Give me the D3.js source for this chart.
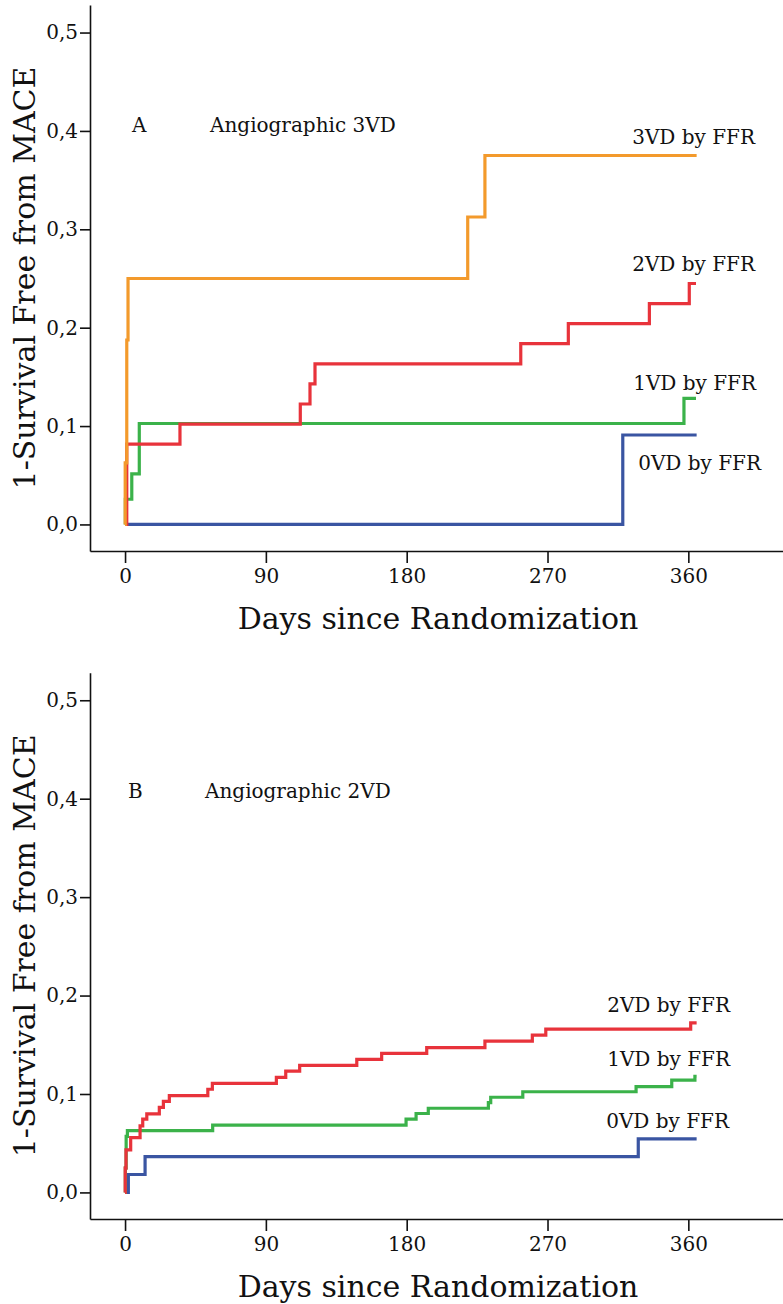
<!DOCTYPE html>
<html>
<head>
<meta charset="utf-8">
<script src="https://cdn.jsdelivr.net/npm/d3@7"></script>
<style>
  html, body { margin: 0; padding: 0; background: #fff; }
  svg text { font-family: "DejaVu Serif", serif; fill: #111; }
</style>
</head>
<body>
<svg id="chart" width="783" height="1304"></svg>
<script>
// ---------- data ----------
const xTicks = [0, 90, 180, 270, 360];
const yTicks = [0, 0.1, 0.2, 0.3, 0.4, 0.5];
const xTickLabels = ["0", "90", "180", "270", "360"];
const yTickLabels = ["0,0", "0,1", "0,2", "0,3", "0,4", "0,5"];
const groupNames = ["0VD by FFR", "1VD by FFR", "2VD by FFR", "3VD by FFR"];
const groupColors = ["#3a55a2", "#3bb24a", "#e8333b", "#f39a2c"];

// Panel A: Angiographic 3VD (cumulative MACE = 1 - survival)
const a0Days = [0, 318.1, 365.3];
const a0Risk = [0, 0.0909, 0.0909];
const a1Days = [0, 0.2, 4.3, 9.1, 357.2, 364.9];
const a1Risk = [0, 0.0256, 0.0513, 0.1026, 0.1282, 0.1282];
const a2Days = [0, 1.1, 35.1, 112.0, 118.2, 121.4, 252.9, 283.3, 335.1, 360.6, 364.9];
const a2Risk = [0, 0.0816, 0.1020, 0.1224, 0.1429, 0.1633, 0.1837, 0.2041, 0.2245, 0.2449, 0.2449];
const a3Days = [0, 0.1, 1.1, 1.9, 219.0, 230.0, 365.3];
const a3Risk = [0, 0.0625, 0.1875, 0.25, 0.3125, 0.375, 0.375];

// Panel B: Angiographic 2VD
const b0Days = [0, 2.1, 12.8, 328.0, 365.3];
const b0Risk = [0, 0.0182, 0.0364, 0.0545, 0.0545];
const b1Days = [0, 0.2, 0.7, 1.5, 56.0, 179.6, 186.0, 193.8, 232.2, 233.7, 254.2, 326.6, 349.4, 364.2, 365.3];
const b1Risk = [0, 0.025, 0.057, 0.0628, 0.0683, 0.0744, 0.0802, 0.0855, 0.0912, 0.0967, 0.1023, 0.1074, 0.114, 0.118, 0.118];
const b2Days = [0, 0.1, 0.6, 3.6, 9.6, 11.3, 13.9, 21.9, 24.5, 28.3, 52.9, 55.8, 96.7, 102.7, 111.6, 148.1, 164.0, 192.8, 230.0, 260.3, 268.9, 361.5, 365.3];
const b2Risk = [0, 0.0247, 0.0433, 0.0557, 0.0676, 0.0744, 0.0797, 0.0865, 0.0926, 0.0983, 0.1048, 0.1108, 0.1169, 0.1233, 0.129, 0.1352, 0.1412, 0.1471, 0.1537, 0.1598, 0.1659, 0.1722, 0.1722];

// ---------- drawing ----------
const svg = d3.select("#chart");
const xDomain = [-22.4, 420.5];
const yDomain = [-0.027, 0.528];

function zip(days, risk) { return days.map((d, i) => [d, risk[i]]); }

function panel(cfg) {
  const x = d3.scaleLinear().domain(xDomain).range([90, 783]);
  const y = d3.scaleLinear().domain(yDomain).range([cfg.bottom, cfg.top]);
  const g = svg.append("g");

  const xAxis = d3.axisBottom(x).tickValues(xTicks)
    .tickFormat((d, i) => xTickLabels[i]).tickSize(12).tickSizeOuter(0).tickPadding(6);
  const gx = g.append("g").attr("transform", `translate(0,${cfg.bottom})`).call(xAxis);
  gx.selectAll("text").attr("font-size", 20).attr("font-family", "DejaVu Serif");

  const yAxis = d3.axisLeft(y).tickValues(yTicks)
    .tickFormat((d, i) => yTickLabels[i]).tickSize(10).tickSizeOuter(0).tickPadding(2);
  const gy = g.append("g").attr("transform", "translate(90,0)").call(yAxis);
  gy.selectAll("text").attr("font-size", 20).attr("font-family", "DejaVu Serif");

  g.selectAll(".domain, .tick line").attr("stroke", "#111").attr("stroke-width", 1.6);

  const line = d3.line().x(d => x(d[0])).y(d => y(d[1])).curve(d3.curveStepAfter);
  cfg.series.forEach((s, i) => {
    g.append("path").datum(zip(s.days, s.risk))
      .attr("fill", "none").attr("stroke", groupColors[s.group])
      .attr("stroke-width", 3.2).attr("stroke-linejoin", "miter").attr("d", line);
  });

  cfg.labels.forEach(l => {
    g.append("text").attr("x", l.x).attr("y", l.y).attr("text-anchor", "end")
      .attr("font-size", 20).text(groupNames[l.group]);
  });

  g.append("text").attr("x", cfg.letterX).attr("y", cfg.titleY).attr("font-size", 20).text(cfg.letter);
  g.append("text").attr("x", cfg.titleX).attr("y", cfg.titleY).attr("font-size", 20).text(cfg.title);

  g.append("text").attr("x", 438).attr("y", cfg.bottom + 78).attr("text-anchor", "middle")
    .attr("font-size", 30).text("Days since Randomization");
  g.append("text").attr("transform", `translate(35,${(cfg.top + cfg.bottom) / 2}) rotate(-90)`)
    .attr("text-anchor", "middle").attr("font-size", 30).text("1-Survival Free from MACE");
}

panel({
  top: 5, bottom: 551,
  letter: "A", letterX: 132, title: "Angiographic 3VD", titleX: 210, titleY: 132,
  series: [
    { group: 0, days: a0Days, risk: a0Risk },
    { group: 1, days: a1Days, risk: a1Risk },
    { group: 2, days: a2Days, risk: a2Risk },
    { group: 3, days: a3Days, risk: a3Risk }
  ],
  labels: [
    { group: 3, x: 755, y: 144 },
    { group: 2, x: 755, y: 271 },
    { group: 1, x: 756, y: 390 },
    { group: 0, x: 761, y: 470 }
  ]
});

panel({
  top: 672.7, bottom: 1219,
  letter: "B", letterX: 128, title: "Angiographic 2VD", titleX: 205, titleY: 798,
  series: [
    { group: 0, days: b0Days, risk: b0Risk },
    { group: 1, days: b1Days, risk: b1Risk },
    { group: 2, days: b2Days, risk: b2Risk }
  ],
  labels: [
    { group: 2, x: 730, y: 1012 },
    { group: 1, x: 730, y: 1066 },
    { group: 0, x: 729, y: 1128 }
  ]
});
</script>
</body>
</html>
